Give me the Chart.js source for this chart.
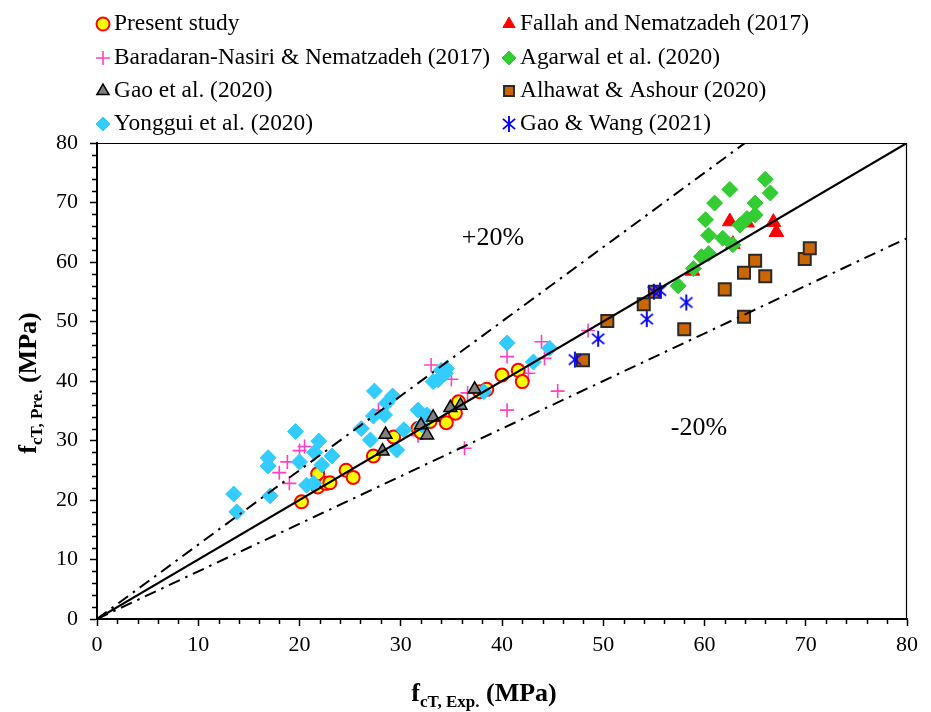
<!DOCTYPE html>
<html><head><meta charset="utf-8">
<script src="https://cdn.jsdelivr.net/npm/chart.js@4.4.0/dist/chart.umd.min.js"></script>
<style>html,body{margin:0;padding:0;background:#fff;}#wrap{width:931px;height:712px;position:relative;}</style>
</head><body><div id="wrap"><canvas id="c" width="931" height="712"></canvas></div>
<script>
// ---- data ----
const presentX = [20.2,21.8,21.8,22.6,23.0,24.6,25.3,27.3,29.3,31.7,32.0,32.9,34.5,35.4,35.7,37.8,38.5,40.0,41.6,42.0];
const presentY = [19.7,22.2,24.4,22.8,22.9,25.0,23.8,27.4,30.6,32.0,31.4,33.2,33.0,34.6,36.5,38.2,38.6,41.0,41.8,39.9];
const fallahX = [58.8,62.5,62.8,64.2,66.8,67.1];
const fallahY = [58.5,66.8,63.0,66.6,66.7,65.0];
const baradaranX = [18.0,18.8,19.0,20.0,20.5,27.8,31.7,33.0,35.0,36.3,36.6,40.5,40.5,42.6,43.9,44.2,45.5,48.5];
const baradaranY = [24.6,26.4,22.8,28.3,29.0,35.1,30.8,42.7,40.3,28.7,38.0,44.1,35.1,41.3,46.6,43.8,38.3,48.5];
const agarwalX = [57.4,58.9,59.7,60.4,60.4,60.1,61.0,61.8,62.5,62.8,63.5,64.2,65.0,65.0,66.0,66.5];
const agarwalY = [56.0,58.9,60.9,61.4,64.5,67.1,69.9,64.0,72.2,62.9,66.2,67.3,67.9,69.9,73.9,71.6];
const gaoX = [28.2,28.5,32.0,32.6,33.2,34.9,35.9,37.3];
const gaoY = [28.2,31.0,32.6,30.9,33.9,35.5,35.9,38.6];
const alhawatX = [48.0,50.4,54.0,55.1,58.0,62.0,63.9,63.9,65.0,66.0,69.9,70.4];
const alhawatY = [43.5,50.1,52.9,55.0,48.7,55.4,58.2,50.8,60.2,57.6,60.5,62.3];
const yongguiX = [13.5,13.8,16.9,16.9,17.1,19.6,20.0,20.7,21.4,21.5,21.9,22.2,23.2,26.1,27.0,27.3,27.4,28.4,28.6,29.2,29.6,30.3,31.7,32.1,32.6,33.2,33.7,34.0,34.4,34.5,38.2,40.5,43.1,44.7];
const yongguiY = [21.0,18.0,27.1,25.7,20.7,31.5,26.4,22.5,22.8,28.0,29.9,25.9,27.4,32.0,30.1,34.1,38.3,34.3,36.3,37.5,28.4,31.8,35.1,32.6,34.3,39.9,40.2,41.8,41.3,42.1,38.2,46.4,43.2,45.5];
const gaoWangX = [47.2,49.5,54.3,55.0,55.6,58.2];
const gaoWangY = [43.6,47.1,50.4,55.0,55.2,53.2];
// reference lines
const equalityLine = [[0,0],[80,80]];
const upperLine = [[0,0],[64,80]];   // +20%
const lowerLine = [[0,0],[80,64]];   // -20%
const axisMin = 0, axisMax = 80, majorStep = 10, minorStep = 2;
const legendLabels = ['Present study','Fallah and Nematzadeh (2017)','Baradaran-Nasiri & Nematzadeh (2017)','Agarwal et al. (2020)','Gao et al. (2020)','Alhawat & Ashour (2020)','Yonggui et al. (2020)','Gao & Wang (2021)'];

const pts = (xs, ys) => xs.map((x,i)=>({x:x,y:ys[i]}));
const lpts = a => a.map(p=>({x:p[0],y:p[1]}));

// asterisk marker
const ast = document.createElement('canvas');
ast.width = 18; ast.height = 18;
(function(){
  const c = ast.getContext('2d');
  c.strokeStyle = '#0000FF'; c.lineWidth = 1.9;
  const r = 8;
  [90, 40, 140].forEach(a=>{
    const t = a*Math.PI/180;
    c.beginPath(); c.moveTo(9 - r*Math.cos(t), 9 - r*Math.sin(t)); c.lineTo(9 + r*Math.cos(t), 9 + r*Math.sin(t)); c.stroke();
  });
})();

const FONT = '"Liberation Serif", "Times New Roman", serif';

const scatterSets = [
  {label:legendLabels[0], data:pts(presentX,presentY), pointStyle:'circle', pointRadius:6.5, backgroundColor:'#FFFF00', borderColor:'#FF0000', borderWidth:2, order:5},
  {label:legendLabels[1], data:pts(fallahX,fallahY), pointStyle:'triangle', pointRadius:8.5, backgroundColor:'#FF0000', borderColor:'#FF0000', borderWidth:1, order:4},
  {label:legendLabels[2], data:pts(baradaranX,baradaranY), pointStyle:'cross', pointRadius:7, backgroundColor:'#FF3FC6', borderColor:'#FF3FC6', borderWidth:1.6, order:6},
  {label:legendLabels[3], data:pts(agarwalX,agarwalY), pointStyle:'rectRot', pointRadius:8, backgroundColor:'#33CC33', borderColor:'#33CC33', borderWidth:1, order:3},
  {label:legendLabels[4], data:pts(gaoX,gaoY), pointStyle:'triangle', pointRadius:7.5, backgroundColor:'#808080', borderColor:'#000000', borderWidth:1.5, order:1},
  {label:legendLabels[5], data:pts(alhawatX,alhawatY), pointStyle:'rect', pointRadius:8.5, backgroundColor:'#CC6600', borderColor:'#2a2a2a', borderWidth:2, order:3},
  {label:legendLabels[6], data:pts(yongguiX,yongguiY), pointStyle:'rectRot', pointRadius:8, backgroundColor:'#33CCFF', borderColor:'#33CCFF', borderWidth:1, order:2},
  {label:legendLabels[7], data:pts(gaoWangX,gaoWangY), pointStyle:ast, pointRadius:9, backgroundColor:'#0000FF', borderColor:'#0000FF', borderWidth:1, order:2}
];
const lineSets = [
  {type:'line', label:'eq', data:lpts(equalityLine), borderColor:'#000', borderWidth:2.2, pointRadius:0, order:0},
  {type:'line', label:'up', data:lpts(upperLine), borderColor:'#000', borderWidth:2, borderDash:[12,6,2.5,6], pointRadius:0, order:0},
  {type:'line', label:'lo', data:lpts(lowerLine), borderColor:'#000', borderWidth:2, borderDash:[12,6,2.5,6], pointRadius:0, order:0}
];

function drawMarker(ctx, ds, x, y){
  ctx.save();
  ctx.fillStyle = ds.backgroundColor; ctx.strokeStyle = ds.borderColor; ctx.lineWidth = ds.borderWidth;
  const r = ds.pointRadius; const s = ds.pointStyle;
  if (s instanceof HTMLCanvasElement){ ctx.drawImage(s, x - s.width/2, y - s.height/2); ctx.restore(); return; }
  ctx.beginPath();
  if (s==='circle'){ ctx.arc(x,y,r,0,Math.PI*2); ctx.fill(); ctx.stroke(); }
  else if (s==='triangle'){ for(let i=0;i<3;i++){const a=i*2*Math.PI/3; const px=x+Math.sin(a)*r, py=y-Math.cos(a)*r; i?ctx.lineTo(px,py):ctx.moveTo(px,py);} ctx.closePath(); ctx.fill(); ctx.stroke(); }
  else if (s==='cross'){ ctx.moveTo(x,y-r); ctx.lineTo(x,y+r); ctx.moveTo(x-r,y); ctx.lineTo(x+r,y); ctx.stroke(); }
  else if (s==='rectRot'){ ctx.moveTo(x,y-r); ctx.lineTo(x+r,y); ctx.lineTo(x,y+r); ctx.lineTo(x-r,y); ctx.closePath(); ctx.fill(); ctx.stroke(); }
  else if (s==='rect'){ const h=Math.SQRT1_2*r; ctx.rect(x-h,y-h,2*h,2*h); ctx.fill(); ctx.stroke(); }
  ctx.restore();
}

const decor = {
  id:'decor',
  afterDraw(chart){
    const ctx = chart.ctx, a = chart.chartArea, sx = chart.scales.x, sy = chart.scales.y;
    ctx.save();
    // frame top/right
    ctx.strokeStyle = '#000'; ctx.lineWidth = 1.2;
    ctx.beginPath(); ctx.moveTo(a.left, a.top+0.5); ctx.lineTo(a.right-0.5, a.top+0.5); ctx.lineTo(a.right-0.5, a.bottom); ctx.stroke();
    // minor ticks (shorter)
    ctx.lineWidth = 1.5;
    ctx.beginPath();
    for (let v = axisMin + minorStep; v < axisMax; v += minorStep){
      if (v % majorStep === 0) continue;
      const px = Math.round(sx.getPixelForValue(v)) + 0.5;
      ctx.moveTo(px, a.bottom + 1); ctx.lineTo(px, a.bottom + 5);
      const py = Math.round(sy.getPixelForValue(v)) + 0.5;
      ctx.moveTo(a.left - 1, py); ctx.lineTo(a.left - 5, py);
    }
    ctx.stroke();
    // legend
    const rows = [24, 58, 91, 124], mx = [103, 509], tx = [114, 520];
    ctx.font = '23.4px ' + FONT; ctx.fillStyle = '#000'; ctx.textBaseline = 'middle'; ctx.textAlign = 'left';
    scatterSets.forEach((ds,i)=>{
      const col = i%2, row = Math.floor(i/2);
      const legDs = Object.assign({}, ds, {pointRadius: Math.min(ds.pointRadius, 7)});
      drawMarker(ctx, legDs, mx[col], rows[row]);
      ctx.fillStyle = '#000';
      ctx.fillText(ds.label, tx[col], rows[row]);
    });
    // band labels
    ctx.font = '26px ' + FONT;
    ctx.textAlign = 'center';
    ctx.fillText('+20%', 493, 238);
    ctx.fillText('-20%', 699, 428);
    // axis titles with subscripts
    const big = 'bold 26px ' + FONT, small = 'bold 17px ' + FONT;
    function titleParts(main, sub, rest){
      ctx.font = big; const w1 = ctx.measureText(main).width, w3 = ctx.measureText(rest).width;
      ctx.font = small; const w2 = ctx.measureText(sub).width;
      return {w1,w2,w3,total:w1+w2+w3};
    }
    ctx.textAlign = 'left'; ctx.textBaseline = 'alphabetic';
    let p = titleParts('f','cT, Exp.',' (MPa)');
    let x0 = 484 - p.total/2, base = 701;
    ctx.font = big; ctx.fillText('f', x0, base);
    ctx.font = small; ctx.fillText('cT, Exp.', x0 + p.w1, base + 6);
    ctx.font = big; ctx.fillText(' (MPa)', x0 + p.w1 + p.w2, base);
    ctx.translate(36, 383); ctx.rotate(-Math.PI/2);
    p = titleParts('f','cT, Pre.',' (MPa)');
    x0 = -p.total/2;
    ctx.font = big; ctx.fillText('f', x0, 0);
    ctx.font = small; ctx.fillText('cT, Pre.', x0 + p.w1, 6);
    ctx.font = big; ctx.fillText(' (MPa)', x0 + p.w1 + p.w2, 0);
    ctx.restore();
  }
};

const tickCb = v => (Math.round(v) % majorStep === 0) ? String(Math.round(v)) : '';
const tickCol = c => (c.tick && Math.round(c.tick.value) % majorStep === 0) ? '#000' : 'rgba(0,0,0,0)';
new Chart(document.getElementById('c'), {
  type:'scatter',
  data:{datasets: lineSets.concat(scatterSets)},
  options:{
    responsive:false, animation:false, devicePixelRatio:1,
    layout:{padding:{left:0, top:143, right:24, bottom:0}},
    plugins:{legend:{display:false}, tooltip:{enabled:false}},
    scales:{
      x:{type:'linear', min:axisMin, max:axisMax,
        afterFit(s){ s.height = 93; },
        ticks:{stepSize:minorStep, autoSkip:false, maxRotation:0, callback:tickCb, color:'#000', font:{family:FONT, size:22}, padding:6},
        grid:{drawOnChartArea:false, drawTicks:true, tickLength:7, tickColor:tickCol, tickWidth:1.5},
        border:{display:true, color:'#000', width:2}},
      y:{type:'linear', min:axisMin, max:axisMax,
        afterFit(s){ s.width = 97; },
        ticks:{stepSize:minorStep, autoSkip:false, callback:tickCb, color:'#000', font:{family:FONT, size:22}, padding:12},
        grid:{drawOnChartArea:false, drawTicks:true, tickLength:7, tickColor:tickCol, tickWidth:1.5},
        border:{display:true, color:'#000', width:2}}
    }
  },
  plugins:[decor]
});
</script></body></html>
